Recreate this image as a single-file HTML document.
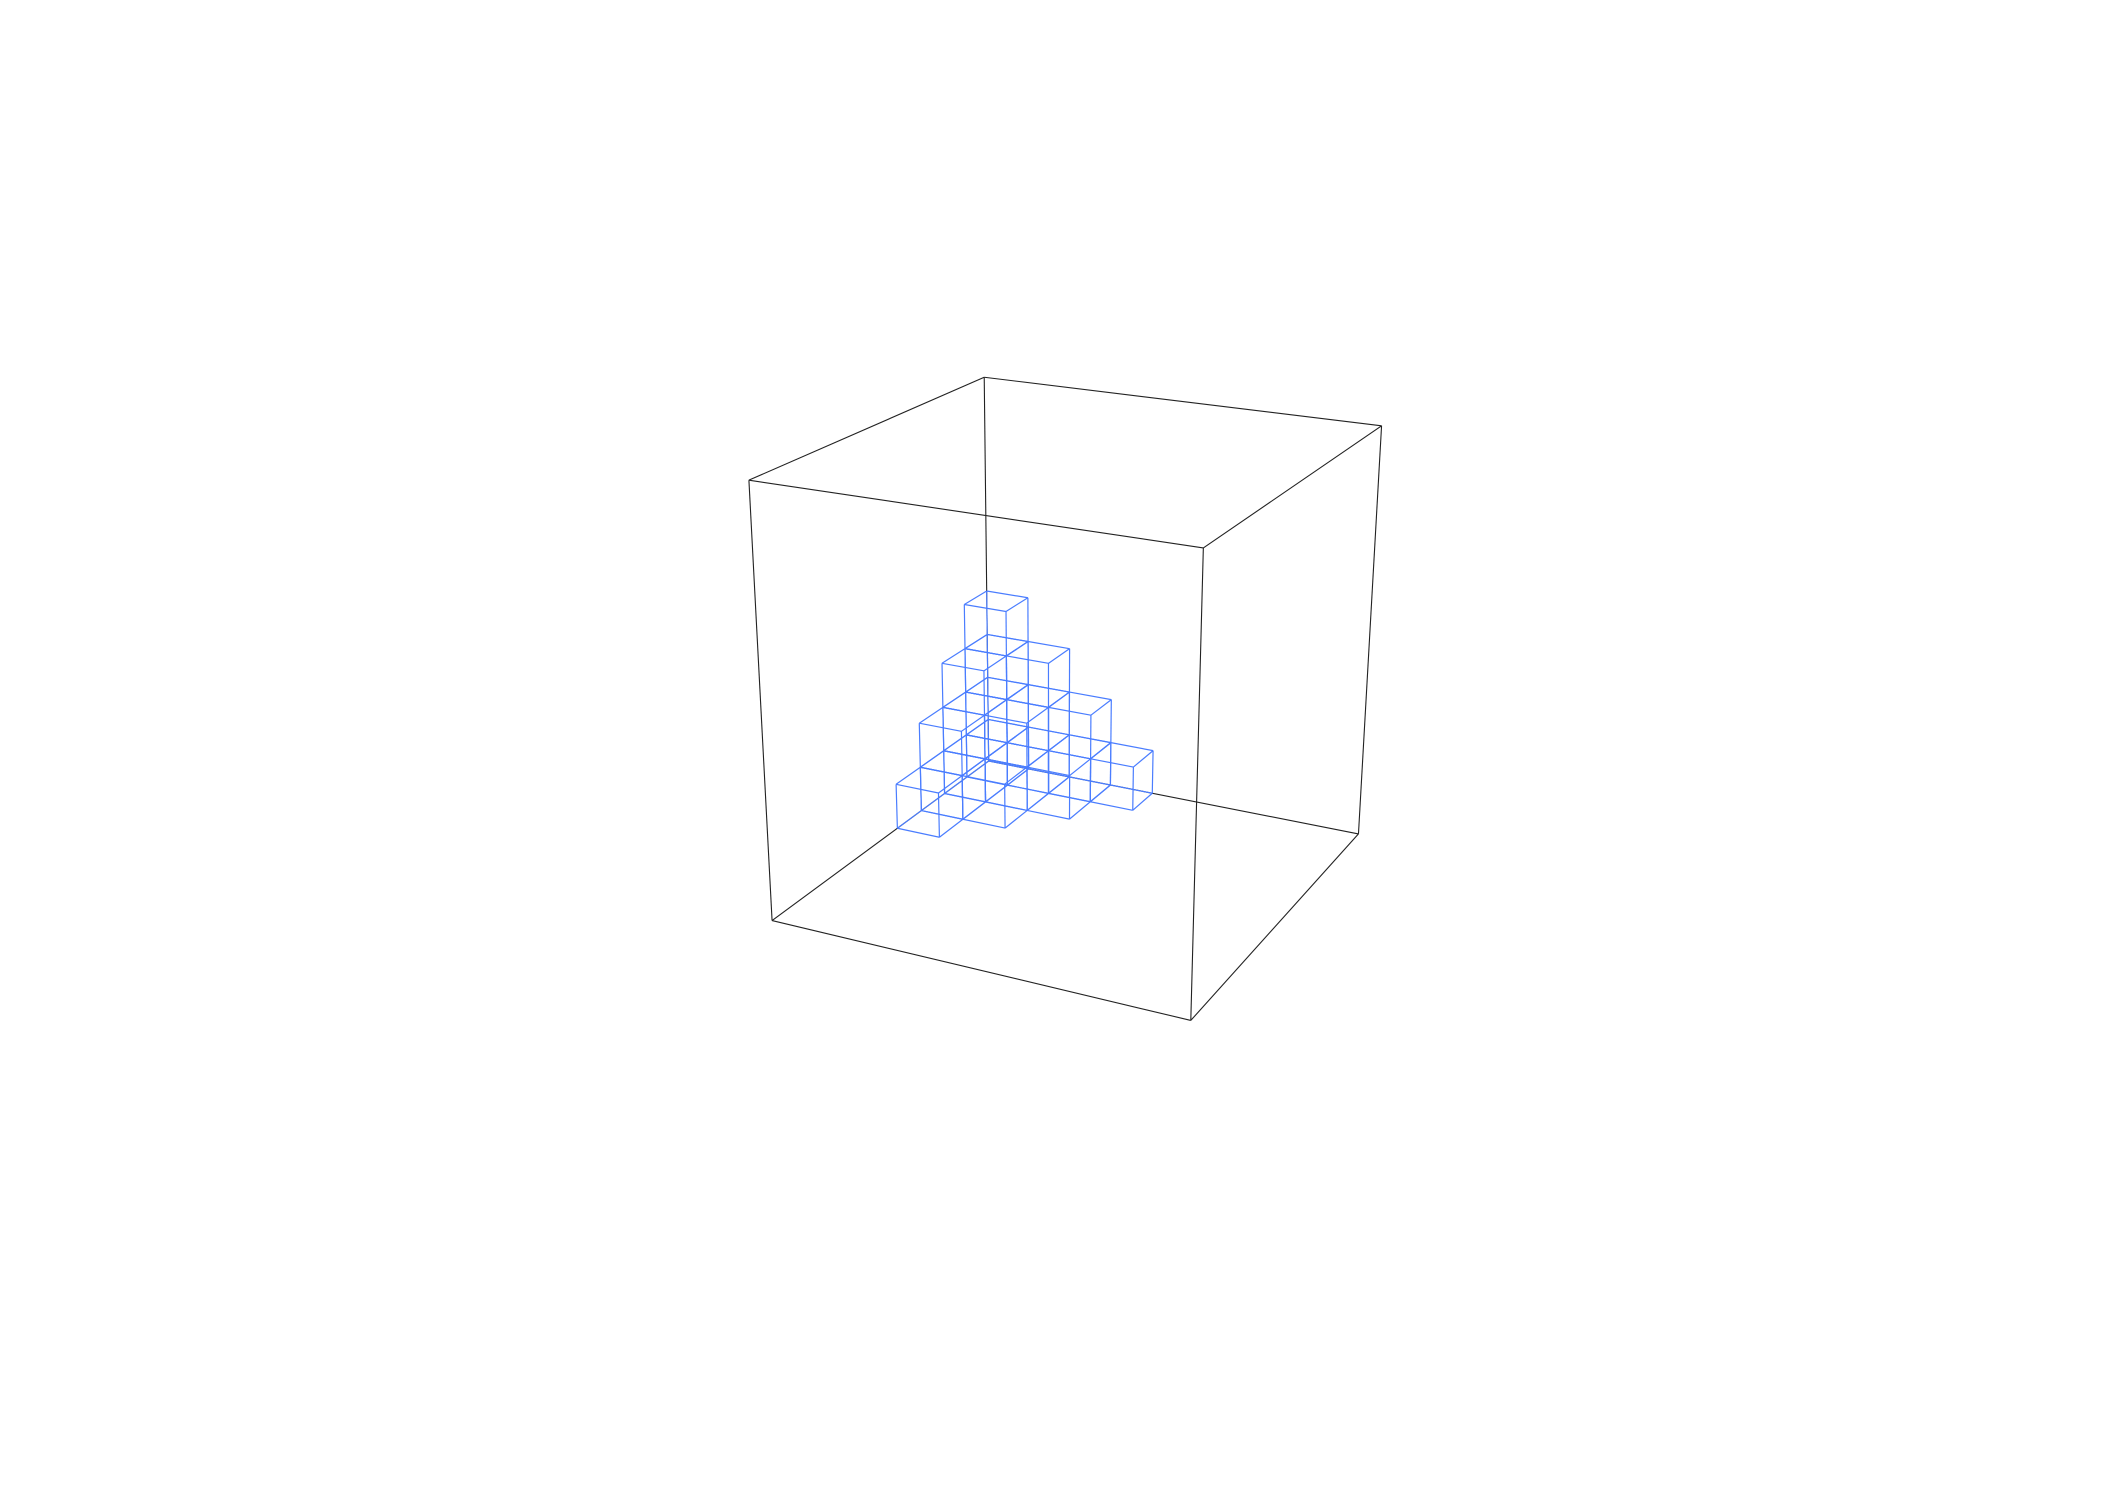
<!DOCTYPE html>
<html><head><meta charset="utf-8"><style>
html,body{margin:0;padding:0;background:#fff;}
svg{display:block;}
</style></head><body>
<svg id="chart" width="2101" height="1499" viewBox="0 0 2101 1499" xmlns="http://www.w3.org/2000/svg">
<rect width="2101" height="1499" fill="#fff"/>
<g id="box"></g>
<g id="cubes"></g>
</svg>
<script>
// data: column heights of stacked unit cubes at grid (i,j)
const colI = [0,1,0,2,1,0,3,2,1,0];
const colJ = [0,0,1,0,1,2,0,1,2,3];
const colH = [4,3,3,2,2,2,1,1,1,1];
const boxSize = 8.7;

// camera calibration from box corners (layout)
const L = boxSize;
const world = [[0,0,0],[L,0,0],[0,L,0],[L,L,0],[0,0,L],[L,0,L],[0,L,L],[L,L,L]];
const screen = [[988,760],[1359,834],[773,922],[1190,1020],[984,378],[1382,426],[749,479],[1203,548]];
function solveDLT(){
  const A=[],b=[];
  for(let k=0;k<world.length;k++){
    const [X,Y,Z]=world[k],[u,v]=screen[k];
    A.push([X,Y,Z,1,0,0,0,0,-u*X,-u*Y,-u*Z]);b.push(u);
    A.push([0,0,0,0,X,Y,Z,1,-v*X,-v*Y,-v*Z]);b.push(v);
  }
  const n=11,M=[],r=[];
  for(let i=0;i<n;i++){M.push(new Array(n).fill(0));r.push(0);}
  for(let k=0;k<A.length;k++)for(let i=0;i<n;i++){r[i]+=A[k][i]*b[k];for(let j=0;j<n;j++)M[i][j]+=A[k][i]*A[k][j];}
  for(let c=0;c<n;c++){
    let p=c;for(let i=c+1;i<n;i++)if(Math.abs(M[i][c])>Math.abs(M[p][c]))p=i;
    [M[c],M[p]]=[M[p],M[c]];[r[c],r[p]]=[r[p],r[c]];
    for(let i=0;i<n;i++){if(i===c)continue;const f=M[i][c]/M[c][c];for(let j=c;j<n;j++)M[i][j]-=f*M[c][j];r[i]-=f*r[c];}
  }
  return r.map((v,i)=>v/M[i][i]).concat([1]);
}
const P=solveDLT();
function proj(X,Y,Z){
  const w=P[8]*X+P[9]*Y+P[10]*Z+P[11];
  return [(P[0]*X+P[1]*Y+P[2]*Z+P[3])/w,(P[4]*X+P[5]*Y+P[6]*Z+P[7])/w];
}
const NS='http://www.w3.org/2000/svg';
function line(g,a,b,stroke,sw,name){
  const p=proj(...a),q=proj(...b);
  const l=document.createElementNS(NS,'line');
  l.setAttribute('x1',p[0].toFixed(2));l.setAttribute('y1',p[1].toFixed(2));
  l.setAttribute('x2',q[0].toFixed(2));l.setAttribute('y2',q[1].toFixed(2));
  l.setAttribute('stroke',stroke);l.setAttribute('stroke-width',sw);
  
  
  g.appendChild(l);
}
function cubeEdges(x0,y0,z0,s){
  const c=[];
  for(const [a,b] of [[[0,0],[1,0]],[[1,0],[1,1]],[[1,1],[0,1]],[[0,1],[0,0]]]){
    for(const z of [0,1]) c.push([[x0+a[0]*s,y0+a[1]*s,z0+z*s],[x0+b[0]*s,y0+b[1]*s,z0+z*s]]);
    c.push([[x0+a[0]*s,y0+a[1]*s,z0],[x0+a[0]*s,y0+a[1]*s,z0+s]]);
  }
  return c;
}
const boxG=document.getElementById('box');
for(const e of cubeEdges(0,0,0,L)) line(boxG,e[0],e[1],'#222',1.1,'box-edge');
const cubesG=document.getElementById('cubes');
for(let k=0;k<colH.length;k++){
  for(let z=0;z<colH[k];z++){
    for(const e of cubeEdges(colI[k],colJ[k],z,1)) line(cubesG,e[0],e[1],'#4a7dff',1.2,'cube-edge');
  }
}
</script>
</body></html>
